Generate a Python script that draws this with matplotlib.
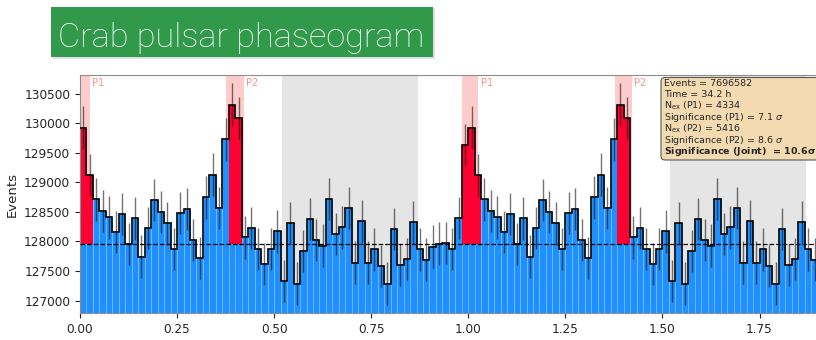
import numpy as np
import matplotlib.pyplot as plt
from matplotlib.patches import Rectangle, FancyBboxPatch
from matplotlib.transforms import IdentityTransform

# --- Data: counts per phase bin (60 bins over one period) ---
counts = np.array([
    129924, 129123, 128711, 128514, 128406, 128158, 128463, 127960, 128389, 127746,
    128226, 128705, 128497, 128305, 127870, 128480, 128547, 128023, 127723, 128745,
    129129, 128564, 129727, 130314, 130088, 128068, 128231, 127870, 127616, 127876,
    128169, 127329, 128316, 127289, 127842, 128384, 128028, 127932, 128722, 128130,
    128237, 128564, 127645, 128339, 127645, 127865, 127588, 127289, 128214, 127599,
    127701, 128322, 127865, 127695, 127915, 127966, 127972, 127876, 128401, 129631,
])
bkg_level = 127960
p1_range = (-0.017, 0.026)
p2_range = (0.377, 0.422)
off_range = (0.52, 0.87)
n_periods = 2
info_lines = [
    "Events = 7696582",
    "Time = 34.2 h",
    r"N$_{\rm ex}$ (P1) = 4334",
    r"Significance (P1) = 7.1 $\sigma$",
    r"N$_{\rm ex}$ (P2) = 5416",
    r"Significance (P2) = 8.6 $\sigma$",
    r"Significance (Joint)  = 10.6$\mathbf{\sigma}$",
]
yticks = np.arange(127000, 131000, 500)
xticks = np.arange(0, 2.0, 0.25)

nb = len(counts)
edges = np.arange(nb * n_periods + 1) / nb
centers = 0.5 * (edges[:-1] + edges[1:])
vals = np.tile(counts, n_periods)
width = 1.0 / nb

fig = plt.figure(figsize=(8.16, 3.4), dpi=100)

# --- title box ---
fig.patches.append(Rectangle((53/816, 281/340), 382/816, 51/340, transform=fig.transFigure,
                             facecolor='0.6', alpha=0.3, edgecolor='none', zorder=0))
fig.patches.append(Rectangle((51/816, 283/340), 382/816, 50/340, transform=fig.transFigure,
                             facecolor='#30994A', edgecolor='none', zorder=1))
fig.text(58/816, 293/340, "Crab pulsar phaseogram", color='white', fontsize=24.7,
         family='Roboto', fontweight='light', va='baseline', ha='left', zorder=2)

ax = fig.add_axes([80/816, 27/340, 776.6/816, 238/340])

# --- regions ---
for k in range(n_periods):
    ax.axvspan(k + off_range[0], k + off_range[1], color='gray', alpha=0.2, lw=0, zorder=0)
    for lo, hi in (p1_range, p2_range):
        ax.axvspan(k + lo, k + hi, color='red', alpha=0.2, lw=0, zorder=0)
    ax.text(k + p1_range[1] + 0.006, 130670, "P1", color='red', alpha=0.45, fontsize=7, va='center')
    ax.text(k + p2_range[1] + 0.006, 130670, "P2", color='red', alpha=0.45, fontsize=7, va='center')

# --- bars ---
ax.bar(edges[:-1], vals, width=width, align='edge', color='#1E90FF',
       edgecolor=(1, 1, 1, 0.15), lw=0.6, zorder=1)

ph = centers % 1.0
in_p1 = (ph <= p1_range[1]) | (ph >= 1 + p1_range[0])
in_p2 = (ph >= p2_range[0]) & (ph <= p2_range[1])
red = in_p1 | in_p2
ax.bar(edges[:-1][red], vals[red] - bkg_level, bottom=bkg_level, width=width,
       align='edge', color='#FF0033', lw=0, zorder=2)

ax.stairs(vals, edges, baseline=None, color='k', lw=1.2, zorder=3)
ax.errorbar(centers, vals, yerr=np.sqrt(vals), fmt='none', ecolor='k',
            alpha=0.55, elinewidth=1.0, zorder=4)
ax.axhline(bkg_level, color='k', ls='--', lw=0.9, zorder=5)

ax.set_xlim(0, 2)
ax.set_ylim(126792, 130813)
ax.set_yticks(yticks)
ax.set_xticks(xticks)
ax.tick_params(labelsize=8.7, colors='0.15')
for s in ax.spines.values():
    s.set_color('0.55')
ax.set_ylabel("Events", fontsize=9.5, color='0.15')
ax.set_xlabel(r"Pulsar phase [$\phi$]", fontsize=9.5, color='0.15')

# --- info box (pixel coordinates, origin bottom-left) ---
box = FancyBboxPatch((661, 340 - 160), 200, 160 - 77.5,
                     boxstyle='round,pad=0,rounding_size=4', transform=IdentityTransform(),
                     facecolor='#F3DAB0', edgecolor='0.35', lw=0.8, clip_on=False, zorder=6)
ax.add_patch(box)
for i, line in enumerate(info_lines):
    ax.text(0.752, 0.965 - i * 0.0478, line, transform=ax.transAxes, fontsize=6.8,
            va='center', ha='left', color='0.15', zorder=7,
            fontweight='bold' if i == len(info_lines) - 1 else 'normal')

fig.savefig("out.png", dpi=100)
